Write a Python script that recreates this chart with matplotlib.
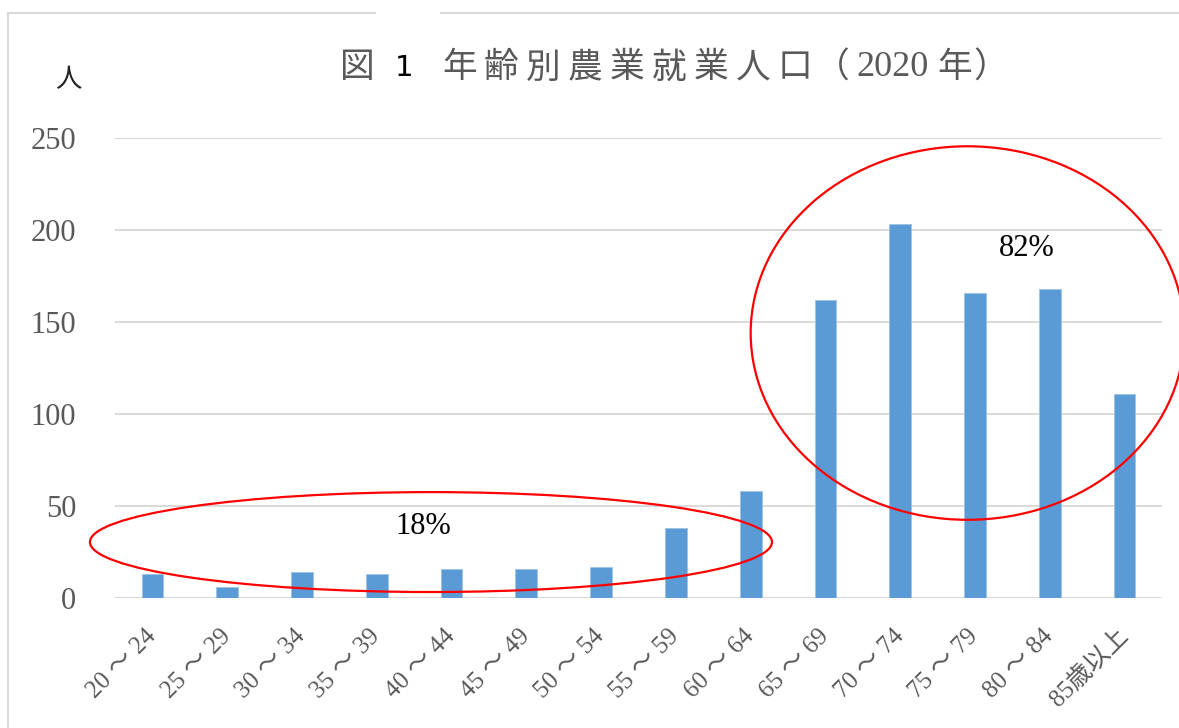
import matplotlib
matplotlib.use("Agg")
import matplotlib.pyplot as plt
from matplotlib.patches import Ellipse
from matplotlib.lines import Line2D

# 年齢階級別の農業就業人口（人）
age_groups = ["20 ～ 24", "25 ～ 29", "30 ～ 34", "35 ～ 39", "40 ～ 44",
              "45 ～ 49", "50 ～ 54", "55 ～ 59", "60 ～ 64", "65 ～ 69",
              "70 ～ 74", "75 ～ 79", "80 ～ 84", "85歳以上"]
workers = [13, 6, 14, 13, 16, 16, 17, 38, 58, 162, 203, 166, 168, 111]
y_ticks = [0, 50, 100, 150, 200, 250]
share_labels = ["18%", "82%"]

W, H = 1179, 728
SERIF = ["Liberation Serif", "Noto Sans CJK JP"]
CJK = ["Noto Sans CJK JP", "DejaVu Sans"]
GREY = "#595959"

fig = plt.figure(figsize=(W / 100, H / 100), dpi=100)
ax = fig.add_axes([115 / W, 1 - 598 / H, (1162 - 115) / W, (598 - 138) / H])

x = list(range(len(age_groups)))
ax.bar(x, workers, width=0.29, color="#5B9BD5", edgecolor="#9DC3E6",
       linewidth=0.6, zorder=3)

ax.set_xlim(-0.5, len(age_groups) - 0.5)
ax.set_ylim(0, 250)
ax.set_yticks(y_ticks)
ax.set_yticklabels([str(v) for v in y_ticks], family=SERIF, fontsize=22,
                   color=GREY)
ax.yaxis.grid(True, color="#D9D9D9", linewidth=1.4, zorder=0)
ax.set_axisbelow(True)
for s in ax.spines.values():
    s.set_visible(False)
ax.tick_params(axis="y", length=0, pad=28)
ax.tick_params(axis="x", length=0, pad=25)
ax.set_xticks(x)
ax.set_xticklabels(age_groups, family=SERIF, fontsize=18, color=GREY,
                   rotation=45, ha="right", va="center",
                   rotation_mode="anchor")

# 囲み楕円と割合
ax.add_patch(Ellipse((3.725, 30.4), 9.12, 54.3, fill=False, edgecolor="#FF0000",
                     linewidth=1.6, clip_on=False, zorder=4))
ax.add_patch(Ellipse((10.9, 144), 5.8, 203, fill=False, edgecolor="#FF0000",
                     linewidth=1.6, clip_on=False, zorder=4))
ax.text(3.62, 39.1, share_labels[0], family=SERIF, fontsize=22, color="black",
        ha="center", va="center", zorder=5)
ax.text(11.69, 190.2, share_labels[1], family=SERIF, fontsize=22, color="black",
        ha="center", va="center", zorder=5)

# 単位
fig.text(68 / W, 1 - 80 / H, "人", family=CJK, fontsize=19, color="#222222",
         ha="center", va="center")

# グラフ枠（タイトル上部は切れている）
border = dict(color="#D9D9D9", linewidth=1.5, transform=fig.transFigure)
fig.add_artist(Line2D([8 / W, 8 / W], [0, 1 - 13 / H], **border))
fig.add_artist(Line2D([8 / W, 375 / W], [1 - 13 / H, 1 - 13 / H], **border))
fig.add_artist(Line2D([441 / W, 1], [1 - 13 / H, 1 - 13 / H], **border))

# タイトル：文字間をあけて配置（左端のピクセル位置、文字送り）
title_y = 1 - 68 / H
def put(s, left, fam, col, size=25, step=None):
    if step is None:
        fig.text(left / W, title_y, s, family=fam, fontsize=size, color=col,
                 ha="left", va="center")
        return
    for i, ch in enumerate(s):
        fig.text((left + i * step) / W, title_y, ch, family=fam,
                 fontsize=size, color=col, ha="left", va="center")

put("図", 340, CJK, GREY)
put("1", 395, ["DejaVu Sans"], "black", size=21)
put("年齢別農業就業人口", 442, CJK, GREY, step=42)
put("（", 815, CJK, GREY)
put("2020", 856, SERIF, GREY, size=26)
put("年", 937, CJK, GREY)
put("）", 973, CJK, GREY)

fig.savefig("out.png", dpi=100)
